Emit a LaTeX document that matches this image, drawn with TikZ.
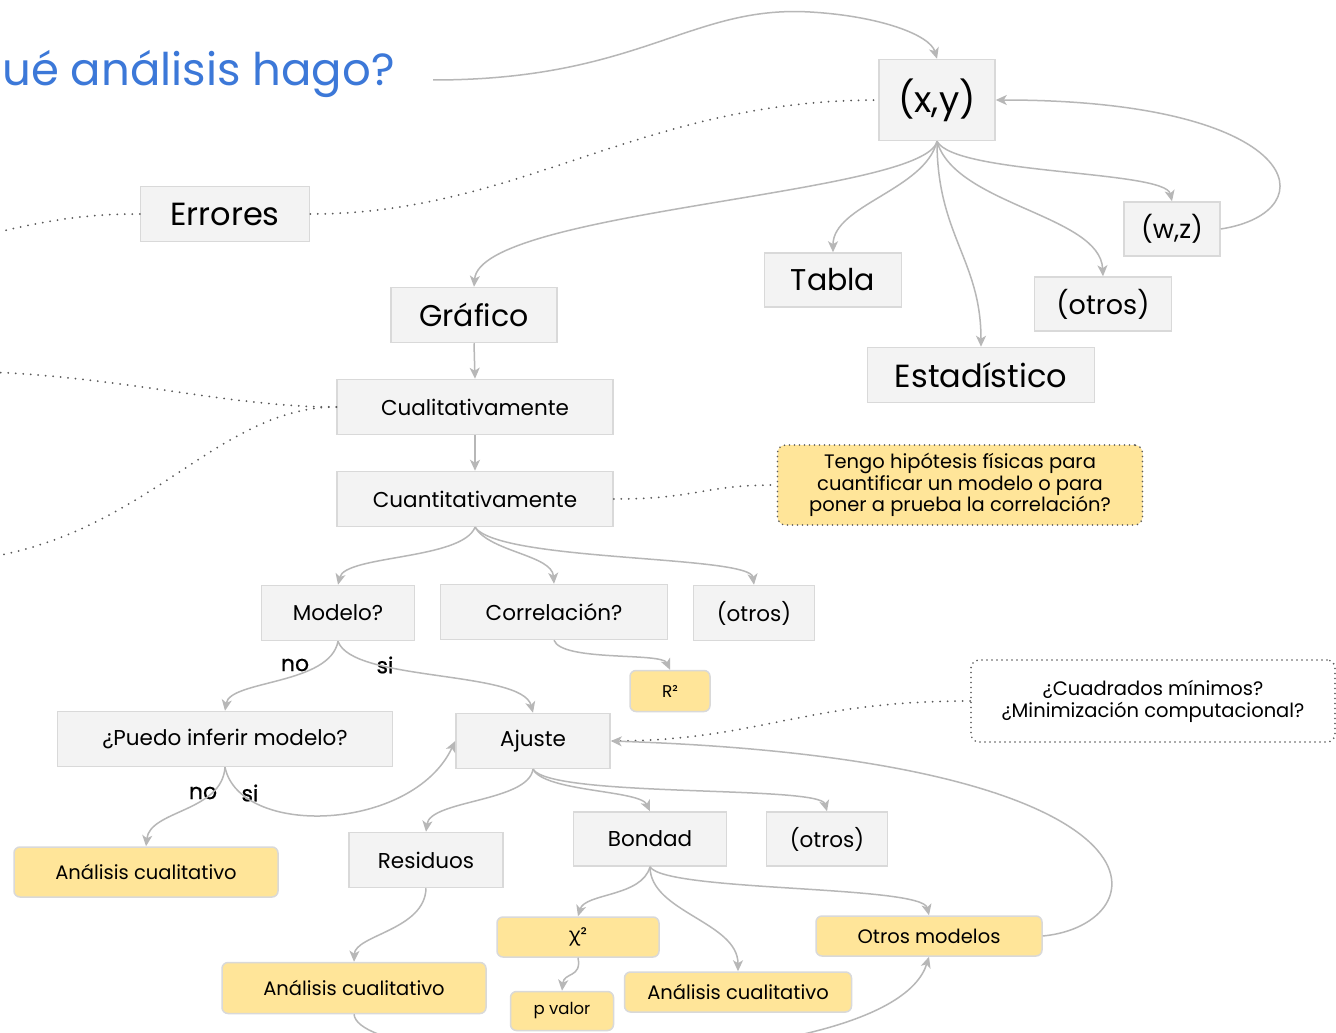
\documentclass[tikz,border=0pt]{standalone}
\usepackage{fontspec}
\setmainfont{Poppins}
\newfontfamily\grk{Noto Sans}
\usetikzlibrary{arrows.meta}
\definecolor{boxfill}{HTML}{F3F3F3}
\definecolor{boxline}{HTML}{D9D9D9}
\definecolor{yel}{HTML}{FFE599}
\definecolor{conn}{HTML}{B7B7B7}
\definecolor{dotg}{HTML}{595959}
\definecolor{titleblue}{HTML}{3C78D8}
\tikzset{
  gbox/.style={draw=boxline, fill=boxfill, line width=1.5pt, inner sep=0pt, text=black},
  ybox/.style={draw=boxline, fill=yel, line width=1.5pt, inner sep=0pt, rounded corners=6pt, text=black},
  arr/.style={draw=conn, line width=1.5pt, -{Stealth[length=11pt,width=10pt,inset=3pt]}},
  dotc/.style={draw=dotg, line width=2pt, line cap=round, dash pattern=on 0pt off 7.5pt},
  lbl/.style={inner sep=0pt, text=black, font=\fontsize{22}{24}\selectfont\addfontfeature{FakeBold=0.6}},
  fmid/.style={font=\fontsize{21.5}{24}\selectfont},
  fbig/.style={font=\fontsize{30}{33}\selectfont},
  fy/.style={font=\fontsize{19.5}{22}\selectfont},
}
\begin{document}
\begin{tikzpicture}[x=1pt,y=-1pt]
\useasboundingbox (0,0) rectangle (1336,1033);
\fill[white] (0,0) rectangle (1336,1033);
\clip (0,0) rectangle (1336,1033);

% title
\node[anchor=base west, inner sep=0pt, text=titleblue, font=\fontsize{45}{50}\selectfont] (title) at (2,85) {ué análisis hago?};
\coordinate (tstart) at (433,80);

% top nodes
\node[gbox, minimum width=116pt, minimum height=81pt, font=\fontsize{36}{40}\selectfont] (xy) at (937,100) {(x,y)};
\node[gbox, minimum width=96pt, minimum height=54pt, font=\fontsize{26}{30}\selectfont] (wz) at (1172,229) {(w,z)};
\node[gbox, minimum width=169pt, minimum height=55pt, font=\fontsize{32}{35}\selectfont] (err) at (225,214) {Errores};
\node[gbox, minimum width=137pt, minimum height=54pt, fbig] (tabla) at (833,280) {Tabla};
\node[gbox, minimum width=137pt, minimum height=54pt, font=\fontsize{27}{30}\selectfont] (otros1) at (1103,304) {(otros)};
\node[gbox, minimum width=166pt, minimum height=55pt, fbig] (graf) at (474,315) {Gráfico};
\node[gbox, minimum width=227pt, minimum height=55pt, font=\fontsize{32}{35}\selectfont] (est) at (981,375) {Estadístico};

% middle
\node[gbox, minimum width=276pt, minimum height=55pt, fmid] (cual) at (475,407) {Cualitativamente};
\node[gbox, minimum width=276pt, minimum height=55pt, fmid] (cuan) at (475,499) {Cuantitativamente};
\node[draw=dotg, fill=yel, line width=1.8pt, line cap=round, dash pattern=on 0pt off 5pt, rounded corners=8pt,
      minimum width=365pt, minimum height=80pt, inner sep=0pt, align=center,
      font=\fontsize{19.5}{21.5}\selectfont] (hyp) at (960,485)
      {Tengo hipótesis físicas para\\cuantificar un modelo o para\\poner a prueba la correlación?};

\node[gbox, minimum width=153pt, minimum height=55pt, fmid] (modelo) at (338,613) {Modelo?};
\node[gbox, minimum width=227pt, minimum height=55pt, fmid] (corr) at (554,612) {Correlación?};
\node[gbox, minimum width=121pt, minimum height=55pt, fmid] (otros2) at (754,613) {(otros)};
\node[ybox, minimum width=80pt, minimum height=41pt, font=\fontsize{17}{19}\selectfont] (r2) at (670,691) {R²};

\node[draw=dotg, fill=white, line width=1.8pt, line cap=round, dash pattern=on 0pt off 5pt, rounded corners=8pt,
      minimum width=364pt, minimum height=82pt, inner sep=0pt, align=center,
      font=\fontsize{19.5}{22}\selectfont] (cuad) at (1153,701)
      {¿Cuadrados mínimos?\\¿Minimización computacional?};

\node[gbox, minimum width=335pt, minimum height=55pt, fmid] (puedo) at (225,739) {¿Puedo inferir modelo?};
\node[gbox, minimum width=154pt, minimum height=55pt, fmid] (ajuste) at (533,741) {Ajuste};

\node[lbl] (no1) at (295,665) {no};
\node[lbl] (si1) at (385,665) {si};
\node[lbl] (no2) at (203,793) {no};
\node[lbl] (si2) at (250,793) {si};

% lower
\node[ybox, minimum width=264pt, minimum height=50pt, fy] (ac1) at (146,872) {Análisis cualitativo};
\node[gbox, minimum width=154pt, minimum height=55pt, fmid] (resid) at (426,860) {Residuos};
\node[gbox, minimum width=153pt, minimum height=54pt, fmid] (bondad) at (650,839) {Bondad};
\node[gbox, minimum width=121pt, minimum height=54pt, fmid] (otros3) at (827,839) {(otros)};
\node[ybox, minimum width=162pt, minimum height=40pt, fy] (chi) at (578,937) {{\grk χ}²};
\node[ybox, minimum width=226pt, minimum height=40pt, fy] (otrosm) at (929,936) {Otros modelos};
\node[ybox, minimum width=264pt, minimum height=51pt, fy] (ac2) at (354,988) {Análisis cualitativo};
\node[ybox, minimum width=103pt, minimum height=39pt, font=\fontsize{16.5}{18}\selectfont] (pval) at (562,1011) {p valor};
\node[ybox, minimum width=227pt, minimum height=40pt, fy] (ac3) at (738,992) {Análisis cualitativo};

% free ends (off picture)
\coordinate (eL) at (-10,234);
\coordinate (cL1) at (-10,372);
\coordinate (cL2) at (-10,557);

% dotted connectors
\draw[dotc] (err.east) .. controls (520,214) and (640,100) .. (xy.west);
\draw[dotc] (err.west) .. controls (80,214) and (40,222) .. (eL);
\draw[dotc] (cual.west) .. controls (230,407) and (130,378) .. (cL1);
\draw[dotc] (cual.west) .. controls (220,407) and (150,530) .. (cL2);
\draw[dotc] (cuan.east) .. controls (700,499) and (700,485) .. (hyp.west);
\draw[dotc] (cuad.west) .. controls (800,701) and (760,741) .. (ajuste.east);

% top connectors
\draw[arr] (tstart) .. controls (640,80) and (690,5) .. (810,12) .. controls (880,16) and (930,35) .. (xy.north);
\draw[arr] (xy.south) .. controls (925,195) and (480,210) .. (graf.north);
\draw[arr] (xy.south) .. controls (925,190) and (833,205) .. (tabla.north);
\draw[arr] (xy.south) .. controls (937,235) and (981,260) .. (est.north);
\draw[arr] (xy.south) .. controls (955,205) and (1100,215) .. (otros1.north);
\draw[arr] (xy.south) .. controls (955,175) and (1165,170) .. (wz.north);
\draw[arr] (wz.east) .. controls (1330,212) and (1305,100) .. (xy.east);

\draw[arr] (graf.south) -- (cual.north);
\draw[arr] (cual.south) -- (cuan.north);

\draw[arr] (cuan.south) .. controls (462,560) and (345,555) .. (modelo.north);
\draw[arr] (cuan.south) .. controls (490,552) and (552,555) .. (corr.north);
\draw[arr] (cuan.south) .. controls (500,562) and (750,555) .. (otros2.north);
\draw[arr] (corr.south) .. controls (562,662) and (662,652) .. (r2.north);

\draw[arr] (modelo.south) .. controls (330,685) and (230,680) .. (puedo.north);
\draw[arr] (modelo.south) .. controls (352,682) and (522,670) .. (ajuste.north);

\draw[arr] (puedo.south) .. controls (222,812) and (150,810) .. (ac1.north);
\draw[arr] (puedo.south) .. controls (240,838) and (412,832) .. (ajuste.west);

\draw[arr] (ajuste.south) .. controls (528,802) and (430,800) .. (resid.north);
\draw[arr] (ajuste.south) .. controls (545,792) and (640,790) .. (bondad.north);
\draw[arr] (ajuste.south) .. controls (552,798) and (820,785) .. (otros3.north);

\draw[arr] (bondad.south) .. controls (642,897) and (585,893) .. (chi.north);
\draw[arr] (bondad.south) .. controls (650,912) and (738,922) .. (ac3.north);
\draw[arr] (bondad.south) .. controls (665,892) and (922,885) .. (otrosm.north);
\draw[arr] (chi.south) .. controls (582,978) and (564,972) .. (pval.north);
\draw[arr] (resid.south) .. controls (425,930) and (355,935) .. (ac2.north);
\draw[arr] (ac2.south) .. controls (360,1075) and (890,1080) .. (otrosm.south);
\draw[arr] (otrosm.east) .. controls (1160,925) and (1190,760) .. (ajuste.east);
\end{tikzpicture}
\end{document}
